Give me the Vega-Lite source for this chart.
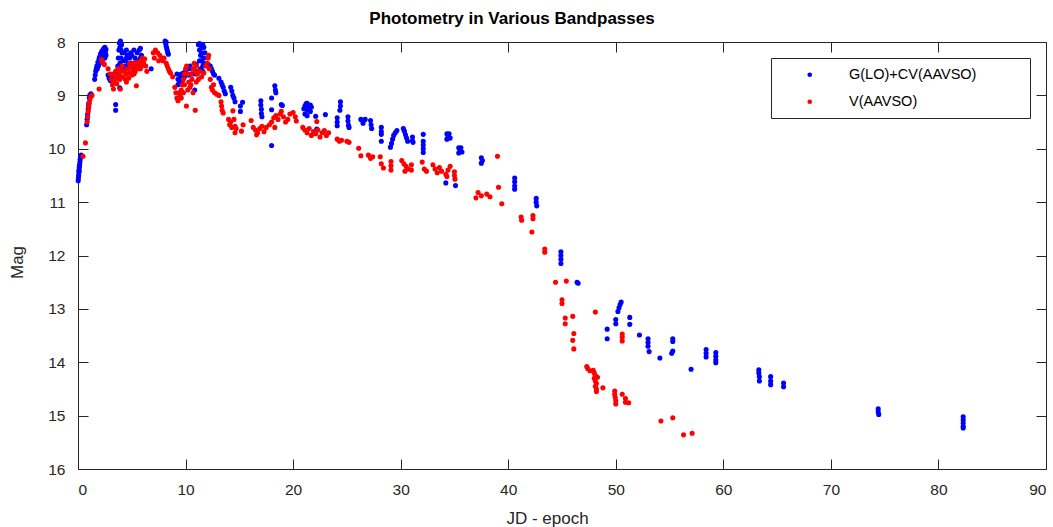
{
  "$schema": "https://vega.github.io/schema/vega-lite/v6.json",
  "width": 968,
  "height": 427,
  "autosize": {"type": "none"},
  "padding": {"left": 78, "top": 42, "right": 7, "bottom": 58},
  "background": "white",
  "config": {
    "font": "Liberation Sans",
    "view": {"stroke": null},
    "axis": {
      "grid": false,
      "domainColor": "#262626",
      "domainWidth": 1,
      "tickColor": "#262626",
      "tickWidth": 1,
      "tickSize": -10,
      "labelColor": "#262626",
      "labelFontSize": 15.5,
      "labelPadding": 23,
      "titleColor": "#262626",
      "titleFontSize": 17,
      "titleFontWeight": "normal"
    }
  },
  "title": {
    "text": "Photometry in Various Bandpasses",
    "fontSize": 17,
    "fontWeight": "bold",
    "color": "#000000",
    "anchor": "middle",
    "dx": -50,
    "dy": 24,
    "baseline": "alphabetic",
    "offset": 18
  },
  "datasets": {
    "g": [
      {"jd":0.02,"mag":10.6},{"jd":0.04,"mag":10.55},{"jd":0.06,"mag":10.5},{"jd":0.08,"mag":10.45},{"jd":0.1,"mag":10.4},{"jd":0.12,"mag":10.35},{"jd":0.15,"mag":10.3},{"jd":0.18,"mag":10.25},{"jd":0.2,"mag":10.2},{"jd":0.25,"mag":10.15},{"jd":0.3,"mag":10.12},{"jd":0.1,"mag":10.42},{"jd":0.14,"mag":10.32},
      {"jd":0.8,"mag":9.55},{"jd":0.85,"mag":9.45},{"jd":0.88,"mag":9.4},{"jd":0.9,"mag":9.35},{"jd":0.95,"mag":9.25},{"jd":0.98,"mag":9.2},{"jd":1.0,"mag":9.15},{"jd":1.05,"mag":9.05},{"jd":1.1,"mag":9.0},{"jd":1.2,"mag":8.97},
      {"jd":1.55,"mag":8.7},{"jd":1.6,"mag":8.62},{"jd":1.65,"mag":8.55},{"jd":1.7,"mag":8.5},{"jd":1.75,"mag":8.45},{"jd":1.85,"mag":8.38},{"jd":1.95,"mag":8.32},{"jd":2.0,"mag":8.28},{"jd":2.1,"mag":8.22},{"jd":2.2,"mag":8.18},{"jd":2.3,"mag":8.15},{"jd":2.4,"mag":8.12},{"jd":2.5,"mag":8.1},{"jd":2.6,"mag":8.14},{"jd":2.55,"mag":8.2},{"jd":2.45,"mag":8.25},{"jd":2.35,"mag":8.3},{"jd":2.0,"mag":8.4},{"jd":1.8,"mag":8.5},{"jd":2.2,"mag":8.3},{"jd":2.5,"mag":8.3},{"jd":1.9,"mag":8.45},{"jd":2.6,"mag":8.25},
      {"jd":2.8,"mag":8.62},{"jd":2.9,"mag":8.68},{"jd":3.0,"mag":8.72},{"jd":3.1,"mag":8.65},{"jd":3.2,"mag":8.7},
      {"jd":3.5,"mag":9.17},{"jd":3.5,"mag":9.28},{"jd":3.88,"mag":8.86},
      {"jd":3.6,"mag":8.6},{"jd":3.7,"mag":8.45},{"jd":3.75,"mag":8.3},{"jd":3.8,"mag":8.15},{"jd":3.85,"mag":8.02},{"jd":3.95,"mag":7.98},{"jd":4.05,"mag":8.05},{"jd":4.1,"mag":8.2},{"jd":4.2,"mag":8.35},{"jd":4.3,"mag":8.5},{"jd":3.9,"mag":8.4},{"jd":4.0,"mag":8.3},{"jd":3.9,"mag":8.1},{"jd":4.0,"mag":8.15},{"jd":3.8,"mag":8.5},
      {"jd":4.3,"mag":8.2},{"jd":4.4,"mag":8.35},{"jd":4.5,"mag":8.3},{"jd":4.6,"mag":8.25},{"jd":4.7,"mag":8.4},{"jd":4.8,"mag":8.3},{"jd":4.9,"mag":8.2},{"jd":5.0,"mag":8.4},{"jd":5.2,"mag":8.15},{"jd":5.3,"mag":8.3},{"jd":5.4,"mag":8.45},{"jd":5.5,"mag":8.2},{"jd":5.6,"mag":8.35},{"jd":5.7,"mag":8.15},{"jd":5.8,"mag":8.3},{"jd":5.9,"mag":8.25},{"jd":6.0,"mag":8.4},{"jd":5.1,"mag":8.5},{"jd":4.6,"mag":8.5},{"jd":4.5,"mag":8.15},{"jd":5.0,"mag":8.25},{"jd":5.2,"mag":8.4},{"jd":5.5,"mag":8.35},{"jd":5.8,"mag":8.12},{"jd":4.4,"mag":8.45},
      {"jd":6.8,"mag":8.5},
      {"jd":8.1,"mag":7.98},{"jd":8.15,"mag":8.03},{"jd":8.2,"mag":8.08},{"jd":8.25,"mag":8.12},{"jd":8.3,"mag":8.16},{"jd":8.35,"mag":8.2},{"jd":8.4,"mag":8.23},{"jd":8.2,"mag":8.0},
      {"jd":9.2,"mag":8.6},{"jd":9.3,"mag":8.7},{"jd":9.4,"mag":8.78},{"jd":9.5,"mag":8.65},{"jd":9.6,"mag":8.6},{"jd":9.7,"mag":8.72},{"jd":9.8,"mag":8.58},{"jd":9.9,"mag":8.65},{"jd":9.3,"mag":8.8},{"jd":9.5,"mag":8.75},
      {"jd":10.0,"mag":8.55},{"jd":10.2,"mag":8.5},{"jd":10.4,"mag":8.45},{"jd":10.6,"mag":8.6},{"jd":10.8,"mag":8.5},{"jd":11.0,"mag":8.42},{"jd":11.2,"mag":8.55},{"jd":10.3,"mag":8.62},{"jd":10.5,"mag":8.5},{"jd":10.9,"mag":8.6},
      {"jd":11.2,"mag":8.05},{"jd":11.3,"mag":8.03},{"jd":11.4,"mag":8.05},{"jd":11.5,"mag":8.1},{"jd":11.6,"mag":8.05},{"jd":11.7,"mag":8.1},{"jd":11.3,"mag":8.15},{"jd":11.4,"mag":8.25},{"jd":11.5,"mag":8.35},{"jd":11.6,"mag":8.45},{"jd":11.7,"mag":8.3},{"jd":11.4,"mag":8.5},{"jd":11.6,"mag":8.55},{"jd":11.8,"mag":8.2},{"jd":11.5,"mag":8.2},{"jd":11.3,"mag":8.35},{"jd":11.7,"mag":8.4},
      {"jd":10.85,"mag":8.9},
      {"jd":12.1,"mag":8.42},{"jd":12.2,"mag":8.48},{"jd":12.3,"mag":8.45},{"jd":12.4,"mag":8.5},{"jd":12.5,"mag":8.55},{"jd":12.6,"mag":8.6},{"jd":12.7,"mag":8.62},
      {"jd":13.1,"mag":8.68},{"jd":13.3,"mag":8.75},{"jd":13.4,"mag":8.8},{"jd":13.5,"mag":8.85},{"jd":13.6,"mag":8.92},{"jd":13.7,"mag":8.97},
      {"jd":14.2,"mag":8.85},{"jd":14.3,"mag":8.92},{"jd":14.4,"mag":9.0},{"jd":14.5,"mag":9.05},{"jd":14.6,"mag":9.12},
      {"jd":15.3,"mag":9.13},{"jd":15.1,"mag":9.2},{"jd":15.1,"mag":9.3},
      {"jd":17.0,"mag":9.1},{"jd":17.0,"mag":9.18},{"jd":17.05,"mag":9.26},{"jd":17.05,"mag":9.34},{"jd":17.1,"mag":9.4},
      {"jd":18.0,"mag":9.27},{"jd":18.0,"mag":9.94},{"jd":18.0,"mag":9.05},{"jd":18.3,"mag":8.82},{"jd":18.35,"mag":8.9},{"jd":18.4,"mag":8.95},{"jd":18.9,"mag":9.17},{"jd":19.0,"mag":9.19},
      {"jd":21.0,"mag":9.25},{"jd":21.1,"mag":9.2},{"jd":21.2,"mag":9.16},{"jd":21.3,"mag":9.15},{"jd":21.4,"mag":9.2},{"jd":21.5,"mag":9.25},{"jd":21.6,"mag":9.3},{"jd":21.7,"mag":9.22},{"jd":21.1,"mag":9.35},{"jd":21.3,"mag":9.38},{"jd":21.6,"mag":9.18},{"jd":21.3,"mag":9.28},
      {"jd":22.1,"mag":9.39},{"jd":22.2,"mag":9.63},{"jd":23.0,"mag":9.36},
      {"jd":24.4,"mag":9.12},{"jd":24.4,"mag":9.2},{"jd":24.35,"mag":9.28},{"jd":24.1,"mag":9.42},{"jd":24.1,"mag":9.5},{"jd":24.1,"mag":9.57},
      {"jd":25.1,"mag":9.4},{"jd":25.1,"mag":9.48},{"jd":25.15,"mag":9.56},{"jd":25.2,"mag":9.6},
      {"jd":26.3,"mag":9.45},{"jd":26.5,"mag":9.48},{"jd":26.7,"mag":9.45},{"jd":26.5,"mag":9.52},{"jd":27.2,"mag":9.47},{"jd":27.25,"mag":9.55},{"jd":27.3,"mag":9.62},
      {"jd":28.2,"mag":9.6},{"jd":28.2,"mag":9.68},{"jd":28.2,"mag":9.73},{"jd":28.2,"mag":9.86},
      {"jd":29.05,"mag":9.97},{"jd":29.15,"mag":9.9},{"jd":29.25,"mag":9.82},{"jd":29.35,"mag":9.75},{"jd":29.5,"mag":9.7},{"jd":29.65,"mag":9.66},
      {"jd":30.25,"mag":9.62},{"jd":30.35,"mag":9.67},{"jd":30.45,"mag":9.74},{"jd":30.55,"mag":9.8},{"jd":30.65,"mag":9.86},
      {"jd":31.1,"mag":9.78},{"jd":31.1,"mag":9.85},{"jd":31.15,"mag":9.88},
      {"jd":32.1,"mag":9.73},{"jd":32.1,"mag":9.86},{"jd":32.1,"mag":9.93},{"jd":32.1,"mag":10.0},{"jd":32.1,"mag":10.07},
      {"jd":34.3,"mag":9.72},{"jd":34.5,"mag":9.72},{"jd":34.4,"mag":9.78},{"jd":34.6,"mag":9.8},{"jd":34.3,"mag":9.82},
      {"jd":35.4,"mag":9.98},{"jd":35.6,"mag":9.98},{"jd":35.5,"mag":10.05},{"jd":35.7,"mag":10.06},{"jd":35.4,"mag":10.08},
      {"jd":34.2,"mag":10.64},{"jd":35.1,"mag":10.69},
      {"jd":37.5,"mag":10.17},{"jd":37.6,"mag":10.22},{"jd":37.5,"mag":10.27},
      {"jd":40.6,"mag":10.55},{"jd":40.6,"mag":10.62},{"jd":40.6,"mag":10.7},{"jd":40.6,"mag":10.76},
      {"jd":42.6,"mag":10.93},{"jd":42.6,"mag":11.0},{"jd":42.65,"mag":11.07},
      {"jd":44.9,"mag":11.93},{"jd":44.9,"mag":12.0},{"jd":44.9,"mag":12.07},{"jd":44.9,"mag":12.15},
      {"jd":46.4,"mag":12.5},{"jd":46.5,"mag":12.52},
      {"jd":50.2,"mag":13.05},{"jd":50.3,"mag":12.98},{"jd":50.4,"mag":12.92},{"jd":50.5,"mag":12.87},
      {"jd":50.0,"mag":13.2},{"jd":50.0,"mag":13.28},{"jd":51.3,"mag":13.16},{"jd":51.3,"mag":13.29},{"jd":49.2,"mag":13.38},{"jd":49.2,"mag":13.56},{"jd":52.2,"mag":13.49},{"jd":53.0,"mag":13.56},{"jd":53.0,"mag":13.63},{"jd":53.0,"mag":13.7},{"jd":53.1,"mag":13.8},{"jd":54.1,"mag":13.92},{"jd":55.3,"mag":13.56},{"jd":55.3,"mag":13.61},{"jd":55.2,"mag":13.83},{"jd":55.3,"mag":13.79},{"jd":57.0,"mag":14.13},
      {"jd":58.4,"mag":13.76},{"jd":58.4,"mag":13.83},{"jd":58.4,"mag":13.9},{"jd":59.3,"mag":13.82},{"jd":59.3,"mag":13.89},{"jd":59.3,"mag":13.96},{"jd":59.3,"mag":14.01},
      {"jd":63.3,"mag":14.14},{"jd":63.3,"mag":14.2},{"jd":63.35,"mag":14.27},{"jd":63.35,"mag":14.35},{"jd":64.4,"mag":14.27},{"jd":64.4,"mag":14.35},{"jd":64.4,"mag":14.42},{"jd":65.6,"mag":14.39},{"jd":65.6,"mag":14.46},
      {"jd":74.4,"mag":14.87},{"jd":74.4,"mag":14.93},{"jd":74.45,"mag":14.98},
      {"jd":82.3,"mag":15.02},{"jd":82.3,"mag":15.08},{"jd":82.3,"mag":15.14},{"jd":82.3,"mag":15.2},{"jd":82.3,"mag":15.23}
    ],
    "v": [
      {"jd":0.47,"mag":10.14},{"jd":0.69,"mag":9.89},
      {"jd":0.85,"mag":9.5},{"jd":0.9,"mag":9.4},{"jd":0.95,"mag":9.3},{"jd":1.0,"mag":9.22},{"jd":1.05,"mag":9.15},{"jd":1.1,"mag":9.08},{"jd":1.2,"mag":9.02},{"jd":1.3,"mag":9.0},
      {"jd":1.96,"mag":8.88},{"jd":2.2,"mag":8.33},{"jd":2.3,"mag":8.38},{"jd":2.45,"mag":8.42},
      {"jd":2.8,"mag":8.5},{"jd":3.0,"mag":8.6},{"jd":3.1,"mag":8.7},{"jd":3.2,"mag":8.8},{"jd":3.3,"mag":8.88},{"jd":3.4,"mag":8.75},
      {"jd":3.5,"mag":8.55},{"jd":3.6,"mag":8.65},{"jd":3.7,"mag":8.5},{"jd":3.8,"mag":8.6},{"jd":3.9,"mag":8.7},{"jd":4.0,"mag":8.55},{"jd":4.1,"mag":8.45},{"jd":4.2,"mag":8.65},{"jd":4.3,"mag":8.55},{"jd":4.4,"mag":8.7},{"jd":4.5,"mag":8.6},{"jd":4.6,"mag":8.5},{"jd":4.7,"mag":8.68},{"jd":4.8,"mag":8.58},{"jd":4.9,"mag":8.45},{"jd":5.0,"mag":8.62},{"jd":5.1,"mag":8.52},{"jd":5.2,"mag":8.4},{"jd":5.3,"mag":8.56},{"jd":5.4,"mag":8.48},{"jd":5.5,"mag":8.38},{"jd":5.6,"mag":8.5},{"jd":5.7,"mag":8.42},{"jd":5.8,"mag":8.35},{"jd":5.9,"mag":8.46},{"jd":6.0,"mag":8.3},{"jd":6.1,"mag":8.4},{"jd":6.2,"mag":8.32},{"jd":6.3,"mag":8.45},{"jd":6.4,"mag":8.55},{"jd":3.94,"mag":8.88},{"jd":5.43,"mag":8.82},{"jd":4.5,"mag":8.75},{"jd":3.6,"mag":8.78},{"jd":3.3,"mag":8.6},{"jd":3.5,"mag":8.7},{"jd":4.0,"mag":8.65},{"jd":4.8,"mag":8.4},{"jd":5.2,"mag":8.6},{"jd":5.8,"mag":8.5},
      {"jd":7.0,"mag":8.2},{"jd":7.2,"mag":8.15},{"jd":7.4,"mag":8.2},{"jd":7.6,"mag":8.25},{"jd":7.8,"mag":8.3},{"jd":7.1,"mag":8.3},{"jd":7.5,"mag":8.35},
      {"jd":7.9,"mag":8.35},{"jd":8.0,"mag":8.3},{"jd":8.2,"mag":8.4},{"jd":8.4,"mag":8.5},{"jd":8.6,"mag":8.58},{"jd":8.8,"mag":8.65},{"jd":8.3,"mag":8.45},{"jd":8.5,"mag":8.55},
      {"jd":9.0,"mag":8.85},{"jd":9.1,"mag":8.95},{"jd":9.2,"mag":9.05},{"jd":9.3,"mag":9.1},{"jd":9.5,"mag":9.0},{"jd":9.6,"mag":8.9},{"jd":9.7,"mag":8.8},{"jd":9.8,"mag":8.7},{"jd":9.9,"mag":8.6},{"jd":10.0,"mag":8.5},{"jd":10.1,"mag":8.45},{"jd":10.2,"mag":8.6},{"jd":10.3,"mag":8.75},{"jd":10.4,"mag":8.85},{"jd":10.5,"mag":8.6},{"jd":10.6,"mag":8.7},{"jd":10.7,"mag":8.5},{"jd":10.8,"mag":8.4},{"jd":10.9,"mag":8.55},{"jd":11.0,"mag":8.45},{"jd":11.1,"mag":8.6},{"jd":11.2,"mag":8.7},{"jd":11.3,"mag":8.55},{"jd":11.5,"mag":8.65},{"jd":11.7,"mag":8.58},{"jd":11.9,"mag":8.45},{"jd":12.0,"mag":8.4},{"jd":9.4,"mag":8.95},{"jd":9.6,"mag":9.05},{"jd":10.08,"mag":9.2},{"jd":10.9,"mag":9.28},{"jd":9.8,"mag":8.95},{"jd":10.2,"mag":8.9},{"jd":9.9,"mag":8.8},{"jd":10.5,"mag":8.8},{"jd":10.7,"mag":8.95},{"jd":11.0,"mag":8.75},
      {"jd":12.1,"mag":8.3},{"jd":12.2,"mag":8.5},{"jd":12.3,"mag":8.7},{"jd":12.4,"mag":8.85},{"jd":12.5,"mag":8.9},{"jd":12.7,"mag":8.95},{"jd":12.9,"mag":8.98},{"jd":13.1,"mag":9.0},{"jd":12.6,"mag":8.8},{"jd":12.15,"mag":8.25},
      {"jd":13.3,"mag":9.12},{"jd":13.35,"mag":9.2},{"jd":13.4,"mag":9.28},{"jd":13.5,"mag":9.33},
      {"jd":14.0,"mag":9.45},{"jd":14.1,"mag":9.55},{"jd":14.2,"mag":9.5},{"jd":14.3,"mag":9.6},{"jd":14.5,"mag":9.45},{"jd":14.6,"mag":9.58},{"jd":14.7,"mag":9.62},{"jd":14.4,"mag":9.29},{"jd":14.6,"mag":9.7},{"jd":15.2,"mag":9.67},{"jd":15.35,"mag":9.55},
      {"jd":16.1,"mag":9.47},{"jd":16.3,"mag":9.6},{"jd":16.5,"mag":9.65},{"jd":16.7,"mag":9.7},{"jd":16.9,"mag":9.62},{"jd":17.1,"mag":9.58},{"jd":17.3,"mag":9.68},{"jd":17.5,"mag":9.6},{"jd":16.6,"mag":9.74},
      {"jd":17.8,"mag":9.55},{"jd":18.0,"mag":9.5},{"jd":18.2,"mag":9.42},{"jd":18.4,"mag":9.38},{"jd":18.6,"mag":9.45},{"jd":18.8,"mag":9.35},{"jd":18.3,"mag":9.6},
      {"jd":18.9,"mag":9.3},{"jd":19.1,"mag":9.4},{"jd":19.3,"mag":9.5},{"jd":19.5,"mag":9.45},{"jd":19.7,"mag":9.35},{"jd":20.0,"mag":9.32},{"jd":20.2,"mag":9.4},{"jd":20.3,"mag":9.48},
      {"jd":20.9,"mag":9.6},{"jd":21.1,"mag":9.65},{"jd":21.3,"mag":9.7},{"jd":21.5,"mag":9.62},{"jd":21.7,"mag":9.75},{"jd":21.9,"mag":9.68},{"jd":22.1,"mag":9.72},{"jd":22.3,"mag":9.65},{"jd":22.5,"mag":9.78},{"jd":22.7,"mag":9.7},{"jd":22.9,"mag":9.66},{"jd":23.1,"mag":9.75},{"jd":23.3,"mag":9.7},{"jd":22.2,"mag":9.49},
      {"jd":24.1,"mag":9.82},{"jd":24.3,"mag":9.86},{"jd":24.5,"mag":9.84},{"jd":25.0,"mag":9.86},{"jd":25.2,"mag":9.88},{"jd":26.1,"mag":9.99},{"jd":26.3,"mag":10.13},{"jd":27.0,"mag":10.12},{"jd":27.2,"mag":10.18},{"jd":27.4,"mag":10.15},{"jd":28.1,"mag":10.15},{"jd":28.2,"mag":10.28},{"jd":28.4,"mag":10.36},{"jd":29.1,"mag":10.24},{"jd":29.1,"mag":10.32},{"jd":29.1,"mag":10.4},{"jd":30.1,"mag":10.22},{"jd":30.3,"mag":10.28},{"jd":30.5,"mag":10.33},{"jd":30.7,"mag":10.38},{"jd":30.4,"mag":10.42},{"jd":31.0,"mag":10.3},{"jd":31.0,"mag":10.4},{"jd":32.0,"mag":10.25},{"jd":32.2,"mag":10.38},{"jd":32.4,"mag":10.42},{"jd":33.0,"mag":10.3},{"jd":33.2,"mag":10.38},{"jd":33.4,"mag":10.45},{"jd":33.6,"mag":10.35},{"jd":33.8,"mag":10.42},{"jd":34.2,"mag":10.48},{"jd":34.4,"mag":10.4},{"jd":34.6,"mag":10.33},{"jd":34.3,"mag":10.52},{"jd":35.0,"mag":10.43},{"jd":35.0,"mag":10.5},{"jd":35.05,"mag":10.57},
      {"jd":37.0,"mag":10.92},{"jd":37.2,"mag":10.82},{"jd":37.5,"mag":10.88},{"jd":38.0,"mag":10.85},{"jd":38.3,"mag":10.9},{"jd":39.0,"mag":10.14},{"jd":39.1,"mag":10.72},{"jd":39.4,"mag":11.03},
      {"jd":41.2,"mag":11.28},{"jd":41.25,"mag":11.34},{"jd":42.3,"mag":11.25},{"jd":42.3,"mag":11.31},{"jd":42.2,"mag":11.56},{"jd":43.4,"mag":11.88},{"jd":43.4,"mag":11.94},{"jd":44.4,"mag":12.5},{"jd":45.4,"mag":12.48},{"jd":45.0,"mag":12.83},{"jd":45.0,"mag":12.9},{"jd":45.3,"mag":13.17},{"jd":45.3,"mag":13.28},{"jd":46.0,"mag":13.14},{"jd":46.1,"mag":13.46},{"jd":46.0,"mag":13.59},{"jd":46.1,"mag":13.75},{"jd":48.1,"mag":13.06},
      {"jd":47.3,"mag":14.08},{"jd":47.4,"mag":14.12},{"jd":47.6,"mag":14.16},{"jd":47.9,"mag":14.15},{"jd":48.0,"mag":14.2},{"jd":48.1,"mag":14.25},{"jd":48.0,"mag":14.3},{"jd":48.1,"mag":14.35},{"jd":48.2,"mag":14.4},{"jd":48.1,"mag":14.45},{"jd":48.2,"mag":14.5},{"jd":48.2,"mag":14.55},{"jd":48.3,"mag":14.28},{"jd":48.8,"mag":14.48},{"jd":49.9,"mag":14.54},{"jd":49.9,"mag":14.6},{"jd":49.95,"mag":14.66},{"jd":50.0,"mag":14.72},{"jd":50.0,"mag":14.78},{"jd":50.6,"mag":14.6},{"jd":50.9,"mag":14.68},{"jd":50.9,"mag":14.75},{"jd":51.2,"mag":14.76},{"jd":50.6,"mag":13.47},{"jd":50.6,"mag":13.53},{"jd":50.6,"mag":13.6},{"jd":54.2,"mag":15.1},{"jd":55.3,"mag":15.04},{"jd":56.3,"mag":15.36},{"jd":57.1,"mag":15.33}
    ]
  },
  "resolve": {"axis": {"x": "independent", "y": "independent"}},
  "layer": [
    {
      "data": {"name": "g"},
      "mark": {"type": "circle", "size": 26, "opacity": 1},
      "encoding": {
        "x": {"field": "jd", "type": "quantitative", "scale": {"domain": [0, 90], "nice": false},
              "axis": {"orient": "bottom", "values": [0,10,20,30,40,50,60,70,80,90], "title": "JD - epoch", "titleX": 469, "titleY": 54, "titleBaseline": "alphabetic", "titleAnchor": null}},
        "y": {"field": "mag", "type": "quantitative", "scale": {"domain": [8, 16], "nice": false, "reverse": true, "zero": false},
              "axis": {"orient": "left", "values": [8,9,10,11,12,13,14,15,16], "title": "Mag", "titleX": -56, "titleY": 220, "titleAlign": "center", "titleBaseline": "alphabetic", "titleAngle": -90}},
        "color": {"datum": "G(LO)+CV(AAVSO)", "type": "nominal",
          "scale": {"domain": ["G(LO)+CV(AAVSO)", "V(AAVSO)"], "range": ["#0000ff", "#ff0000"]},
          "legend": {
            "title": null, "orient": "none", "legendX": 693, "legendY": 16,
            "strokeColor": "#262626", "fillColor": "#ffffff", "padding": 9.5,
            "symbolType": "circle", "symbolSize": 22, "symbolStrokeWidth": 0,
            "symbolOffset": 22, "labelOffset": 32, "rowPadding": 12,
            "labelFontSize": 14.5, "labelColor": "#000000", "labelLimit": 400,
            "labelExpr": "datum.label + '\u2800\u2800\u2800\u2800'"
          }}
      }
    },
    {
      "data": {"name": "v"},
      "mark": {"type": "circle", "size": 26, "opacity": 1},
      "encoding": {
        "x": {"field": "jd", "type": "quantitative", "axis": null},
        "y": {"field": "mag", "type": "quantitative", "axis": null},
        "color": {"datum": "V(AAVSO)", "type": "nominal"}
      }
    },
    {
      "data": {"name": "g"},
      "mark": {"type": "circle", "size": 1, "opacity": 0},
      "encoding": {
        "x": {"field": "jd", "type": "quantitative",
              "axis": {"orient": "top", "labels": false, "title": null, "values": [0,10,20,30,40,50,60,70,80,90]}},
        "y": {"field": "mag", "type": "quantitative",
              "axis": {"orient": "right", "labels": false, "title": null, "values": [8,9,10,11,12,13,14,15,16]}}
      }
    }
  ]
}
